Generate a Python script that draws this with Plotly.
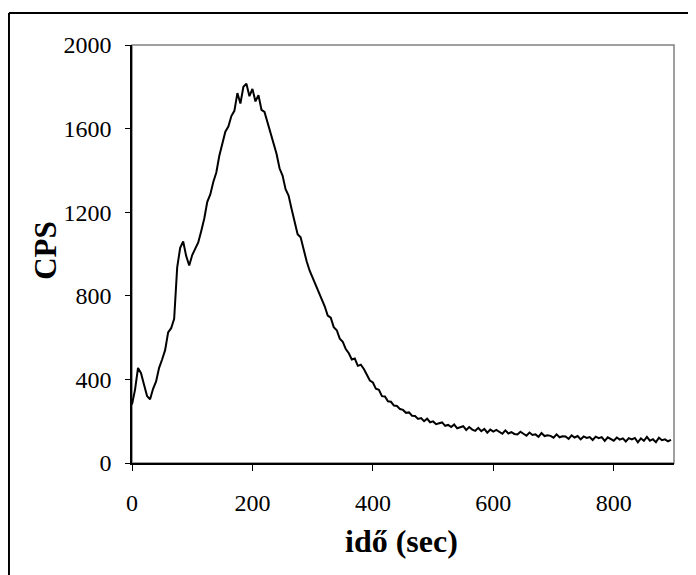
import numpy as np
import plotly.graph_objects as go

# CPS readings, one every 5 seconds starting at t = 0
cps = [
    280, 350, 455, 430, 375, 320, 305, 355, 390, 455,
    495, 540, 625, 645, 690, 935, 1030, 1060, 990, 945,
    995, 1025, 1055, 1110, 1170, 1250, 1285, 1345, 1390, 1470,
    1530, 1585, 1610, 1660, 1685, 1770, 1720, 1800, 1815, 1755,
    1790, 1730, 1760, 1690, 1680, 1630, 1585, 1535, 1480, 1410,
    1375, 1310, 1280, 1215, 1160, 1095, 1080, 1020, 965, 920,
    885, 855, 820, 785, 750, 705, 695, 650, 635, 595,
    580, 545, 525, 495, 500, 465, 470, 450, 425, 395,
    385, 355, 350, 320, 318, 295, 293, 275, 273, 258,
    254, 240, 242, 226, 225, 211, 215, 200, 212, 195,
    199, 186, 190, 194, 178, 182, 172, 184, 166, 170,
    176, 158, 172, 160, 154, 168, 152, 163, 145, 160,
    150, 158, 147, 140, 156, 141, 148, 139, 137, 150,
    140, 131, 146, 134, 137, 125, 143, 129, 133, 130,
    121, 137, 123, 128, 127, 115, 132, 122, 129, 113,
    127, 120, 124, 110, 126, 119, 124, 106, 123, 115,
    107, 122, 112, 118, 103, 119, 113, 120, 99, 118,
    106, 125, 107, 114, 100, 121, 109, 113, 104, 111,
]
step = 5
time_s = np.arange(len(cps)) * step

x_ticks = [0, 200, 400, 600, 800]
y_ticks = [0, 400, 800, 1200, 1600, 2000]

fig = go.Figure()
fig.add_trace(go.Scatter(
    x=time_s, y=cps, mode='lines',
    line=dict(color='black', width=2),
    showlegend=False, hoverinfo='skip'
))

serif = 'Liberation Serif, Times New Roman, serif'

# the page body adds an 8px margin, so the figure is 8px smaller than the window
fig.update_layout(
    width=688, height=567,
    margin=dict(l=124, r=22, t=37, b=112),
    paper_bgcolor='white', plot_bgcolor='white',
    font=dict(family=serif, size=24, color='black'),
    annotations=[
        dict(text='<b>idő (sec)</b>', x=0.498, y=-0.1866, xref='paper', yref='paper',
             showarrow=False, xanchor='center', yanchor='middle',
             font=dict(family=serif, size=32)),
        dict(text='<b>CPS</b>', x=-0.1587, y=0.51, xref='paper', yref='paper',
             showarrow=False, xanchor='center', yanchor='middle', textangle=-90,
             font=dict(family=serif, size=31)),
    ],
    shapes=[
        # plot area frame
        dict(type='rect', xref='paper', yref='paper', x0=0, y0=0, x1=1, y1=1,
             line=dict(color='#808080', width=1.5), layer='below'),
        # outer chart border (runs off the right and bottom of the picture)
        dict(type='line', xref='paper', yref='paper', x0=-0.227, y0=1.0766, x1=1.1, y1=1.0766,
             line=dict(color='black', width=2)),
        dict(type='line', xref='paper', yref='paper', x0=-0.227, y0=1.0766, x1=-0.227, y1=-0.3,
             line=dict(color='black', width=2)),
    ],
)

fig.update_xaxes(
    range=[0, 900], tickvals=x_ticks, ticks='outside', ticklen=6, tickcolor='black',
    showline=True, linecolor='black', linewidth=1.5, showgrid=False, zeroline=False,
    ticklabelstandoff=11
)
fig.update_yaxes(
    range=[0, 2000], tickvals=y_ticks, ticks='outside', ticklen=5, tickcolor='black',
    showline=True, linecolor='black', linewidth=1.5, showgrid=False, zeroline=False,
    ticklabelstandoff=9
)

fig.write_html("out.html")
